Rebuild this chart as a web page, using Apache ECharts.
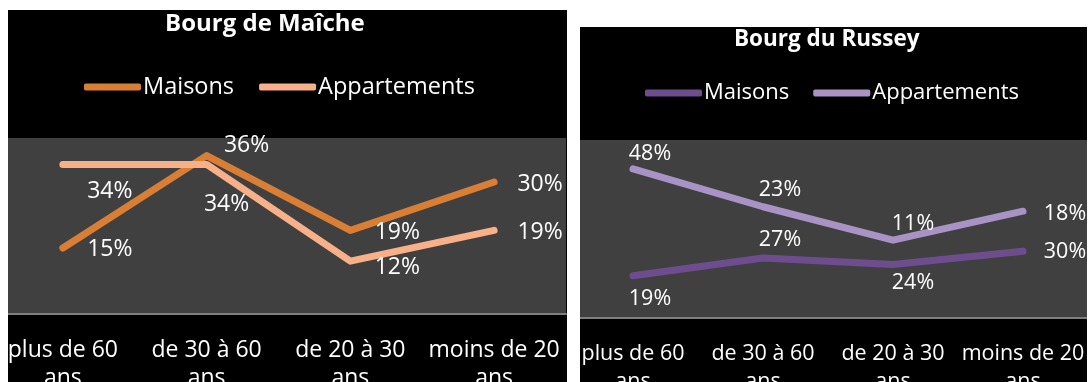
<!DOCTYPE html>
<html>
<head>
<meta charset="utf-8">
<script src="https://cdn.jsdelivr.net/npm/echarts@6/dist/echarts.min.js"></script>
<style>
  html, body { margin: 0; padding: 0; background: #ffffff; width: 1088px; height: 382px; overflow: hidden; position: relative; }
  #c1 { position: absolute; left: 8px; top: 10px; width: 559px; height: 372px; background: #000; }
  #c2 { position: absolute; left: 580px; top: 27px; width: 507px; height: 355px; background: #000; }
</style>
</head>
<body>
<div id="c1"></div>
<div id="c2"></div>
<script>
// ---- data ----
const categories = ['plus de 60 ans', 'de 30 à 60 ans', 'de 20 à 30 ans', 'moins de 20 ans'];
const seriesNames = ['Maisons', 'Appartements'];
const titleMaiche = 'Bourg de Maîche';
const maicheMaisons = [15, 36, 19, 30];
const maicheAppartements = [34, 34, 12, 19];
const titleRussey = 'Bourg du Russey';
const russeyMaisons = [19, 27, 24, 30];
const russeyAppartements = [48, 23, 11, 18];

// ---- label placement (style only) ----
const offMaicheMaisons = [[47, 1], [40, -10], [47, 2], [46, 2]];
const offMaicheApp = [[47, 27], [20, 40], [47, 6], [46, 2]];
const offRusseyMaisons = [[17, 23], [17, -18], [20, 18], [42, 1]];
const offRusseyApp = [[17, -15], [17, -17], [20, -16], [42, 3]];

const FONT = '"Open Sans", sans-serif';
const WHITE = '#ffffff';

function withLabels(values, offsets) {
  return values.map((v, i) => ({
    value: v,
    label: { offset: offsets[i] }
  }));
}

function lineSeries(name, values, offsets, color, fs, stack) {
  const s = {
    name: name,
    type: 'line',
    data: withLabels(values, offsets),
    symbol: 'circle',
    symbolSize: 1,
    showSymbol: true,
    itemStyle: { color: color },
    lineStyle: { color: color, width: 7, cap: 'round', join: 'round' },
    label: {
      show: true,
      position: 'inside',
      color: WHITE,
      fontFamily: FONT,
      fontSize: fs,
      formatter: p => p.value + '%'
    },
    emphasis: { disabled: true },
    animation: false
  };
  if (stack) s.stack = stack;
  return s;
}

function baseOption(cfg) {
  return {
    backgroundColor: '#000000',
    animation: false,
    title: {
      text: cfg.title,
      left: cfg.titleLeft,
      top: cfg.titleTop,
      padding: 0,
      textStyle: { color: WHITE, fontFamily: FONT, fontSize: cfg.titleSize, fontWeight: 'bold' }
    },
    legend: {
      data: seriesNames,
      left: cfg.legendLeft,
      top: cfg.legendTop,
      padding: 0,
      icon: 'roundRect',
      itemWidth: 57,
      itemHeight: 7,
      itemGap: cfg.legendGap,
      textStyle: { color: WHITE, fontFamily: FONT, fontSize: cfg.legendSize, padding: [0, 0, 0, -3] },
      selectedMode: false
    },
    color: cfg.colors,
    grid: Object.assign({ show: true, backgroundColor: '#404040', borderWidth: 0, containLabel: false, outerBoundsMode: 'none' }, cfg.grid),
    xAxis: {
      type: 'category',
      data: categories,
      boundaryGap: true,
      axisLine: { show: true, lineStyle: { color: '#7f7f7f', width: 2 } },
      axisTick: { show: false },
      splitLine: { show: false },
      axisLabel: {
        color: WHITE,
        fontFamily: FONT,
        fontSize: cfg.labelSize,
        lineHeight: 28,
        margin: 22,
        interval: 0,
        hideOverlap: false,
        formatter: v => v.replace(/ ans$/, '\nans')
      }
    },
    yAxis: {
      type: 'value',
      min: 0,
      max: cfg.ymax,
      interval: cfg.ymax / 4,
      show: false,
      splitLine: { show: false }
    }
  };
}

const c1 = echarts.init(document.getElementById('c1'));
const o1 = baseOption({
  title: titleMaiche, titleLeft: 157, titleTop: 2, titleSize: 24,
  legendLeft: 76, legendTop: 65, legendSize: 23.5, legendGap: 25, labelSize: 23,
  grid: { left: -17, top: 128, width: 575, height: 176 },
  ymax: 40, colors: ['#D97F35', '#F7B088']
});
o1.series = [
  lineSeries(seriesNames[0], maicheMaisons, offMaicheMaisons, '#D97F35', 23),
  lineSeries(seriesNames[1], maicheAppartements, offMaicheApp, '#F7B088', 23)
];
c1.setOption(o1);

const c2 = echarts.init(document.getElementById('c2'));
const o2 = baseOption({
  title: titleRussey, titleLeft: 154, titleTop: 1, titleSize: 22.5,
  legendLeft: 65, legendTop: 55, legendSize: 22, legendGap: 24, labelSize: 21.5,
  grid: { left: -12, top: 113, width: 520, height: 178 },
  ymax: 80, colors: ['#6E4D8E', '#A893C4']
});
o2.series = [
  lineSeries(seriesNames[0], russeyMaisons, offRusseyMaisons, '#6E4D8E', 21.5, 'r'),
  lineSeries(seriesNames[1], russeyAppartements, offRusseyApp, '#A893C4', 21.5, 'r')
];
c2.setOption(o2);
</script>
</body>
</html>
